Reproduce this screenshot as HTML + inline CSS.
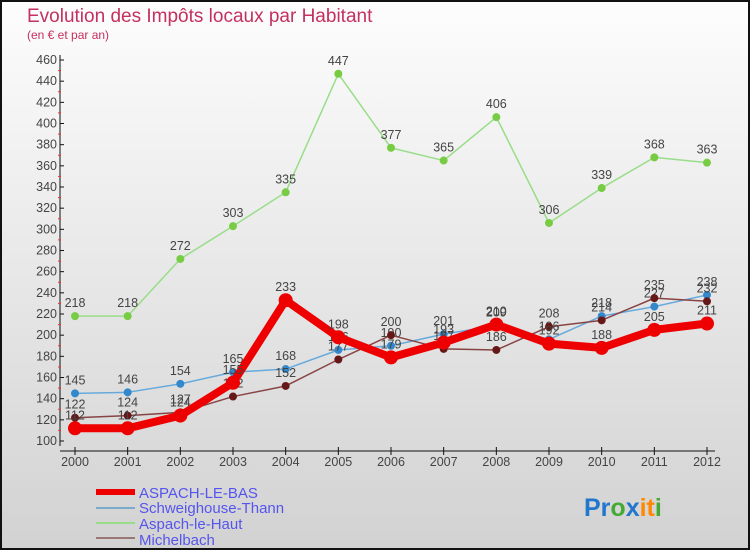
<!DOCTYPE html>
<html><head><meta charset="utf-8"><style>
body{margin:0;width:750px;height:550px;overflow:hidden;font-family:"Liberation Sans",sans-serif}
svg{display:block}
</style></head><body>
<svg id="c" width="750" height="550" xmlns="http://www.w3.org/2000/svg">
<defs><linearGradient id="bg" x1="0" y1="0" x2="0" y2="1"><stop offset="0" stop-color="#fdfdfd"/><stop offset="1" stop-color="#d2d2d2"/></linearGradient></defs>
<rect x="1" y="1" width="748" height="548" fill="url(#bg)" stroke="#111" stroke-width="2"/>
<text x="27" y="22" font-size="19" fill="#c4305f">Evolution des Impôts locaux par Habitant</text>
<text x="27" y="39" font-size="12" fill="#c4305f">(en € et par an)</text>
<g id="axes"></g><g id="series"></g>
<g>
<line x1="96" y1="492" x2="135" y2="492" stroke="#ee0000" stroke-width="6"/><text x="139" y="498" font-size="15" fill="#5555ee">ASPACH-LE-BAS</text>
<line x1="96" y1="508" x2="135" y2="508" stroke="#7aaccc" stroke-width="2"/><text x="139" y="513" font-size="15" fill="#5555ee">Schweighouse-Thann</text>
<line x1="96" y1="523" x2="135" y2="523" stroke="#99dd88" stroke-width="2"/><text x="139" y="529" font-size="15" fill="#5555ee">Aspach-le-Haut</text>
<line x1="96" y1="538" x2="135" y2="538" stroke="#997777" stroke-width="2"/><text x="139" y="545" font-size="15" fill="#5555ee">Michelbach</text>
</g>
<text x="584" y="516" font-size="25" font-weight="bold"><tspan fill="#2277cc">Pr</tspan><tspan fill="#44aa33">o</tspan><tspan fill="#2277cc">x</tspan><tspan fill="#ff8800">it</tspan><tspan fill="#44aa33">i</tspan></text>
</svg>
<script>
const years=[2000,2001,2002,2003,2004,2005,2006,2007,2008,2009,2010,2011,2012];
const yTicks=[100,120,140,160,180,200,220,240,260,280,300,320,340,360,380,400,420,440,460];
const aspachLeHaut=[218,218,272,303,335,447,377,365,406,306,339,368,363];
const schweighouse=[145,146,154,165,168,186,190,201,209,196,218,227,238];
const michelbach=[122,124,127,142,152,177,200,187,186,208,214,235,232];
const aspachLeBas=[112,112,124,155,233,198,179,193,210,192,188,205,211];
const NS="http://www.w3.org/2000/svg";
const x=i=>75+i*(707-75)/(years.length-1);
const y=v=>441-(v-100)*(441-60)/360;
function mk(t,a,p){const e=document.createElementNS(NS,t);for(const k in a)e.setAttribute(k,a[k]);p.appendChild(e);return e;}
const ax=document.getElementById('axes');
const yaxis=mk('line',{x1:60,y1:55,x2:60,y2:446,stroke:'#111','stroke-width':1},ax);


const xaxis=mk('line',{x1:60,y1:451,x2:715,y2:451,stroke:'#111','stroke-width':1},ax);


yTicks.forEach((v,i)=>{
 mk('line',{x1:60,y1:y(v),x2:64,y2:y(v),stroke:'#111'},ax);
 if(i<yTicks.length-1)mk('line',{x1:58,y1:y(v+10),x2:61,y2:y(v+10),stroke:'#e33'},ax);
 const t=mk('text',{x:57,y:y(v)+4,'font-size':12.5,fill:'#444','text-anchor':'end'},ax);t.textContent=v;
 
 
});
years.forEach((yr,i)=>{
 mk('line',{x1:x(i),y1:447,x2:x(i),y2:455,stroke:'#111'},ax);
 const t=mk('text',{x:x(i),y:466,'font-size':12.5,fill:'#444','text-anchor':'middle'},ax);t.textContent=yr;
 
 
});
const sg=document.getElementById('series');
function series(vals,name,col,dot,w,r){
 const g=mk('g',{},sg);
 
 
 mk('polyline',{points:vals.map((v,i)=>x(i)+','+y(v)).join(' '),fill:'none',stroke:col,'stroke-width':w,'stroke-linejoin':'round'},g);
 vals.forEach((v,i)=>{
  const c=mk('circle',{cx:x(i),cy:y(v),r:r,fill:dot},g);
  
  
  const t=mk('text',{x:x(i),y:y(v)-9,'font-size':12.5,fill:'#444','text-anchor':'middle'},g);t.textContent=v;
  
  
 });
}
series(aspachLeHaut,'aspach-le-haut','#99dd88','#77cc44',1.5,4);
series(schweighouse,'schweighouse-thann','#66aadd','#3388cc',1.5,4);
series(michelbach,'michelbach','#884444','#661818',1.5,4);
series(aspachLeBas,'aspach-le-bas','#ee0000','#ee0000',8,7);
</script>
</body></html>
